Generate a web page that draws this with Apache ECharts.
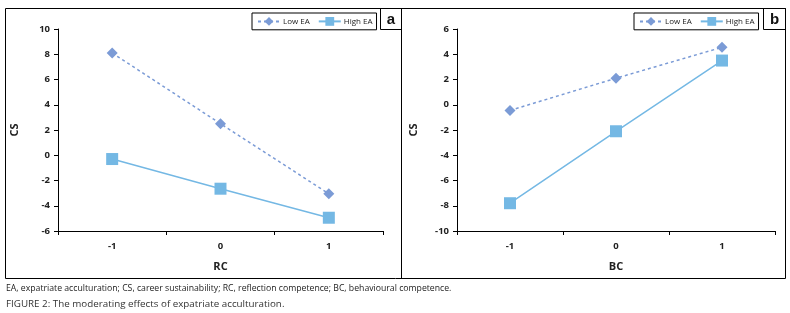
<!DOCTYPE html>
<html>
<head>
<meta charset="utf-8">
<script src="https://cdn.jsdelivr.net/npm/echarts@6/dist/echarts.min.js"></script>
<style>
  html, body { margin: 0; padding: 0; background: #fff; }
  #main { width: 790px; height: 313px; }
</style>
</head>
<body>
<div id="main"></div>
<script>
// data
var xCats = ['-1', '0', '1'];
var lowEA_a = [8.1, 2.5, -3.05];
var highEA_a = [-0.3, -2.65, -4.95];
var lowEA_b = [-0.45, 2.1, 4.55];
var highEA_b = [-7.8, -2.1, 3.5];

var lowColor = '#7b9bd6';
var highColor = '#74b8e4';
var ff = '"Open Sans", "Liberation Sans", sans-serif';

var chart = echarts.init(document.getElementById('main'), null, { renderer: 'canvas' });

function xAxisOf(idx, name) {
  return {
    type: 'category', gridIndex: idx, data: xCats, boundaryGap: true,
    name: name, nameLocation: 'middle', nameGap: 30,
    nameTextStyle: { fontFamily: ff, fontSize: 11, fontWeight: 'bold', color: '#222' },
    axisLine: { onZero: false, lineStyle: { color: '#000', width: 1 } },
    axisTick: { show: true, length: 4, alignWithLabel: false, lineStyle: { color: '#000' } },
    axisLabel: { fontFamily: ff, fontSize: 9.5, fontWeight: 'bold', color: '#222', margin: 10 },
    splitLine: { show: false }
  };
}
function yAxisOf(idx, min, max) {
  return {
    type: 'value', gridIndex: idx, min: min, max: max, interval: 2,
    name: 'CS', nameLocation: 'middle', nameGap: 38,
    nameTextStyle: { fontFamily: ff, fontSize: 11, fontWeight: 'bold', color: '#222' },
    axisLine: { show: true, onZero: false, lineStyle: { color: '#000', width: 1 } },
    axisTick: { show: true, length: 4, lineStyle: { color: '#000' } },
    axisLabel: { fontFamily: ff, fontSize: 9.5, fontWeight: 'bold', color: '#222', margin: 8 },
    splitLine: { show: false }
  };
}
function lowSeries(idx, data) {
  return {
    name: 'Low EA', type: 'line', xAxisIndex: idx, yAxisIndex: idx, data: data,
    symbol: 'diamond', symbolSize: 11, color: lowColor,
    lineStyle: { type: [3, 3], width: 1.5, color: lowColor },
    itemStyle: { color: lowColor }
  };
}
function highSeries(idx, data) {
  return {
    name: 'High EA', type: 'line', xAxisIndex: idx, yAxisIndex: idx, data: data,
    symbol: 'rect', symbolSize: 12, color: highColor,
    lineStyle: { type: 'solid', width: 1.5, color: highColor },
    itemStyle: { color: highColor }
  };
}
function legendOf(left) {
  return {
    left: left, top: 13, orient: 'horizontal',
    borderColor: '#000', borderWidth: 1, padding: [4, 4, 4, 5], itemGap: 8,
    itemWidth: 22, itemHeight: 11,
    data: ['Low EA', 'High EA'],
    textStyle: { fontFamily: ff, fontSize: 8, color: '#222', padding: [0, 0, 0, -2] }
  };
}

var option = {
  animation: false,
  grid: [
    { left: 58, right: 407, top: 29, bottom: 82 },
    { left: 457, right: 15, top: 29, bottom: 82 }
  ],
  xAxis: [xAxisOf(0, 'RC'), xAxisOf(1, 'BC')],
  yAxis: [yAxisOf(0, -6, 10), yAxisOf(1, -10, 6)],
  legend: [legendOf(252), legendOf(634)],
  series: [
    lowSeries(0, lowEA_a), highSeries(0, highEA_a),
    lowSeries(1, lowEA_b), highSeries(1, highEA_b)
  ],
  graphic: [
    { type: 'rect', shape: { x: 5.5, y: 8.5, width: 780, height: 270 }, style: { fill: null, stroke: '#000', lineWidth: 1 }, silent: true },
    { type: 'line', shape: { x1: 401.5, y1: 8.5, x2: 401.5, y2: 278.5 }, style: { stroke: '#000', lineWidth: 1 }, silent: true },
    { type: 'rect', shape: { x: 380.5, y: 8.5, width: 21, height: 21 }, style: { fill: null, stroke: '#000', lineWidth: 1 }, silent: true },
    { type: 'text', x: 391, y: 19.5, style: { text: 'a', fontFamily: '"Liberation Sans", Arial, sans-serif', fontSize: 15, fontWeight: 'bold', fill: '#111', align: 'center', verticalAlign: 'middle' } },
    { type: 'rect', shape: { x: 763.5, y: 8.5, width: 22, height: 21 }, style: { fill: null, stroke: '#000', lineWidth: 1 }, silent: true },
    { type: 'text', x: 774.5, y: 19.5, style: { text: 'b', fontFamily: '"Liberation Sans", Arial, sans-serif', fontSize: 15, fontWeight: 'bold', fill: '#111', align: 'center', verticalAlign: 'middle' } },
    { type: 'text', x: 6, y: 289, style: { text: 'EA, expatriate acculturation; CS, career sustainability; RC, reflection competence; BC, behavioural competence.', fontFamily: ff, fontSize: 8.7, fill: '#222', verticalAlign: 'middle' } },
    { type: 'text', x: 6, y: 304, style: { text: 'FIGURE 2: The moderating effects of expatriate acculturation.', fontFamily: ff, fontSize: 9.8, fill: '#333', verticalAlign: 'middle' } }
  ]
};
chart.setOption(option);
</script>
</body>
</html>
